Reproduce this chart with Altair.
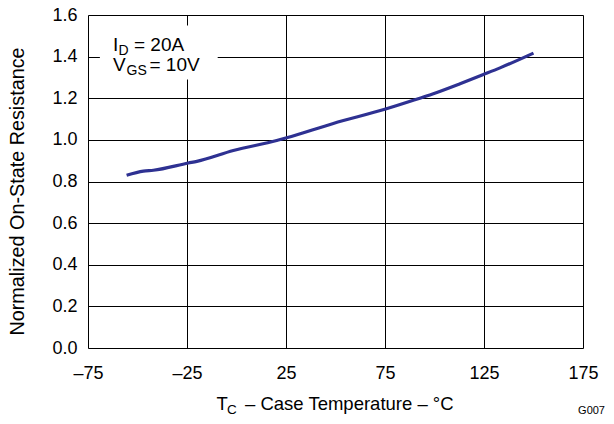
import altair as alt
import pandas as pd

# Curve data
temps = [-55.5, -47, -42, -24.3, -20, -1.6, 20.3, 25.3, 48.9, 75.3, 89.3, 99.4, 112.9, 124.7, 133.1, 150]
rds = [0.830, 0.850, 0.854, 0.889, 0.897, 0.949, 0.997, 1.010, 1.079, 1.148, 1.190, 1.222, 1.270, 1.314, 1.346, 1.417]

x_ticks = [-75, -25, 25, 75, 125, 175]
y_ticks = [0.0, 0.2, 0.4, 0.6, 0.8, 1.0, 1.2, 1.4, 1.6]

# annotation box extent (data units)
box_x = [-69]
box_x2 = [-9.5]
box_y = [1.29]
box_y2 = [1.55]

W, H = 495, 333
FONT = "Liberation Sans"

df = pd.DataFrame({"t": temps, "r": rds})
box = pd.DataFrame({"x": box_x, "x2": box_x2, "y": box_y, "y2": box_y2})

xscale = alt.Scale(domain=[-75, 175], nice=False, zero=False)
yscale = alt.Scale(domain=[0, 1.6], nice=False, zero=False)

xaxis = alt.Axis(values=x_ticks, grid=True, gridColor="black", gridWidth=1, gridOpacity=1,
                 ticks=False, domain=False, labelFontSize=18, labelFont=FONT, labelColor="black",
                 labelPadding=16, labelFlush=False, title=None,
                 labelExpr="datum.value < 0 ? '\u2013' + abs(datum.value) : datum.label")
yaxis = alt.Axis(values=y_ticks, grid=True, gridColor="black", gridWidth=1, gridOpacity=1,
                 ticks=False, domain=False, labelFontSize=18, labelFont=FONT, labelColor="black",
                 labelPadding=11, labelFlush=False, format=".1f",
                 title="Normalized On-State Resistance", titleFontSize=19.8, titleFont=FONT,
                 titleFontWeight="normal", titleColor="black", titleX=-64.5, titleY=176,
                 titleBaseline="alphabetic")

line = alt.Chart(df).mark_line(color="#2E3192", strokeWidth=3.2, interpolate="monotone").encode(
    x=alt.X("t:Q", scale=xscale, axis=xaxis),
    y=alt.Y("r:Q", scale=yscale, axis=yaxis),
)

rect = alt.Chart(box).mark_rect(color="white").encode(
    x=alt.X("x:Q", scale=xscale), x2="x2:Q",
    y=alt.Y("y:Q", scale=yscale), y2="y2:Q",
)

def txt(s, x, y, size, align="left", baseline="alphabetic"):
    return alt.Chart(pd.DataFrame({"s": [s]})).mark_text(
        font=FONT, fontSize=size, color="black", align=align, baseline=baseline
    ).encode(text="s:N", x=alt.value(x), y=alt.value(y))

texts = [
    # annotation
    txt("I", 25, 36, 19),
    txt("D", 30.5, 40, 14),
    txt("= 20A", 46, 36, 19),
    txt("V", 25, 56, 19),
    txt("GS", 38.5, 60, 14),
    txt("= 10V", 61.5, 56, 19),
    # x title
    txt("T", 128.5, 395, 18.5),
    txt("C", 139, 399, 13.5),
    txt("\u2013 Case Temperature \u2013 \u00b0C", 157, 395, 18.5),
    # figure id
    txt("G007", 517, 399, 11, align="right"),
]

chart = alt.layer(rect, line, *texts).properties(
    width=W, height=H,
    autosize=alt.AutoSizeParams(type="none"),
    padding={"left": 80, "top": 7, "right": 23, "bottom": 68},
).configure_view(stroke="black", strokeWidth=1.6).configure(background="white")

chart.save("out.html", embed_options={"renderer": "svg", "actions": False})
